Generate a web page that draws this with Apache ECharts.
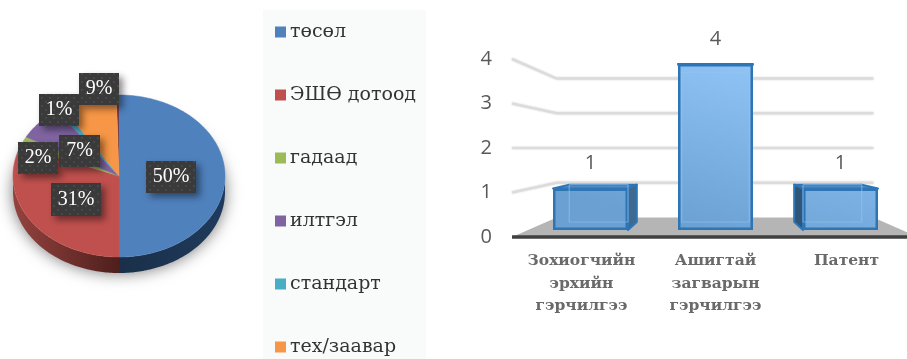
<!DOCTYPE html>
<html><head><meta charset="utf-8">
<style>html,body{margin:0;padding:0;background:#fff}#c{width:907px;height:359px}</style>
<script src="https://cdn.jsdelivr.net/npm/echarts@6/dist/echarts.min.js"></script>
</head><body><div id="c"></div>
<script>
// ---- data ----
const pieCategories = ['төсөл', 'ЭШӨ дотоод', 'гадаад', 'илтгэл', 'стандарт', 'тех/заавар'];
const pieValues = [50, 31, 2, 7, 1, 8.6];
const pieTotal = 100;
const barCategories = ['Зохиогчийн\nэрхийн\nгэрчилгээ', 'Ашигтай\nзагварын\nгэрчилгээ', 'Патент'];
const barValues = [1, 4, 1];
const axisTicks = [0, 1, 2, 3, 4];

// ---- style / layout ----
const pieColors = ['#4f81bd', '#c0504d', '#9bbb59', '#8064a2', '#4bacc6', '#f79646'];
const labelBoxes = [[146,161,50,32],[51,183,50,33],[18,142,40,32],[59,135,41,32],[39,94,40,32],[79,73,40,32]];
const categoryShift = [[0,18,0,0],[0,0,0,0],[0,0,0,12]];
const PIE = {cx:119, cy:176, rx:106, ry:81, depth:16};
const BAR_V = {scale:0.9};
const WALL = {scale:0.78, vx:715};

const ell = (deg, dy) => {
  const a = deg * Math.PI / 180;
  return [PIE.cx + PIE.rx * Math.sin(a), PIE.cy + (dy||0) - PIE.ry * Math.cos(a)];
};
const arcPts = (a0, a1, dy) => {
  const pts = [], n = Math.max(2, Math.ceil(Math.abs(a1 - a0)));
  for (let i = 0; i <= n; i++) pts.push(ell(a0 + (a1 - a0) * i / n, dy));
  return pts;
};
const startAngle = i => pieValues.slice(0, i).reduce((s, v) => s + v, 0) / pieTotal * 360;

const dotCanvas = document.createElement('canvas');
dotCanvas.width = dotCanvas.height = 8;
(() => { const g = dotCanvas.getContext('2d');
  g.fillStyle = '#3a3a3a'; g.fillRect(0,0,8,8);
  g.fillStyle = '#484848'; g.fillRect(1,1,2,2); g.fillRect(5,5,2,2); })();

function renderSlice(params, api) {
  const i = api.value(1);
  const a0 = startAngle(i), a1 = startAngle(i + 1);
  const children = [];
  const s0 = Math.max(a0, 90), s1 = Math.min(a1, 270);
  if (s1 > s0) {
    const top = arcPts(s0, s1, 0), bot = arcPts(s1, s0, PIE.depth);
    const isRed = i === 1;
    children.push({type:'polygon', z2:1, shape:{points: top.concat(bot)},
      style:{fill:{type:'linear',x:0,y:0,x2:1,y2:0,colorStops: isRed
        ? [{offset:0,color:'#94433f'},{offset:1,color:'#4e1f1c'}]
        : [{offset:0,color:'#1a3049'},{offset:1,color:'#1f3a5c'}]}}});
  }
  children.push({type:'polygon', z2:3, shape:{points:[[PIE.cx,PIE.cy]].concat(arcPts(a0,a1,0))},
    style:{fill:pieColors[i], stroke:pieColors[i], lineWidth:0.5}});
  return {type:'group', children};
}

const sliceSeries = pieCategories.map((name, i) => ({
  type:'custom', name, coordinateSystem:'none', silent:true, z:2,
  itemStyle:{color:pieColors[i]}, data:[[pieValues[i], i]], renderItem:renderSlice
}));

const pieBase = {
  type:'custom', name:'pieBase', coordinateSystem:'none', silent:true, z:1, data:[pieTotal],
  renderItem(){
    const rest = startAngle(pieValues.length);
    return {type:'group', children:[
      {type:'polygon', shape:{points:arcPts(0,360,PIE.depth-3)},
       style:{fill:'#ffffff',shadowBlur:16,shadowColor:'rgba(0,0,0,0.55)',shadowOffsetY:3}},
      {type:'polygon', z2:2, shape:{points:[[PIE.cx,PIE.cy]].concat(arcPts(rest,360,0))},
       style:{fill:'#7a2b33'}}
    ]};
  }
};

const pieLabels = {
  type:'custom', name:'pieLabels', coordinateSystem:'none', silent:true, z:5,
  data: pieValues.map((v,i)=>[v,i]),
  renderItem(params, api){
    const i = api.value(1), b = labelBoxes[i];
    return {type:'group', children:[
      {type:'rect', shape:{x:b[0],y:b[1],width:b[2],height:b[3]},
       style:{fill:{image:dotCanvas,repeat:'repeat'},shadowBlur:7,shadowOffsetX:4,shadowOffsetY:4,shadowColor:'rgba(0,0,0,0.45)'}},
      {type:'text', z2:2, style:{x:b[0]+b[2]/2,y:b[1]+b[3]/2,align:'center',verticalAlign:'middle',
        text:Math.round(api.value(0))+'%', fill:'#fff',
        font:'20px "Liberation Serif"'}}
    ]};
  }
};

const wallSeries = {
  type:'custom', name:'wall', xAxisIndex:0, yAxisIndex:0, silent:true, z:1,
  data: axisTicks.map(v=>[0,v]),
  renderItem(params, api){
    const c = params.coordSys, v = api.value(1), fy = api.coord([0,v])[1];
    const vx = WALL.vx, vy = c.y + c.height/2;
    const bx0 = vx + (c.x-vx)*WALL.scale, bx1 = vx + (vx-c.x)*WALL.scale, fx1 = vx + (vx-c.x);
    const by = vy + (fy-vy)*WALL.scale;
    if (v === axisTicks[0]) {
      return {type:'group', children:[
        {type:'polygon', shape:{points:[[c.x,fy],[bx0,by],[bx1,by],[fx1,fy]]}, style:{fill:'#b5b5b5'}},
        {type:'line', z2:2, shape:{x1:c.x,y1:fy,x2:fx1,y2:fy}, style:{stroke:'#404040',lineWidth:3.5}}
      ]};
    }
    return {type:'polyline', shape:{points:[[c.x,fy],[bx0,by],[bx1,by]]},
      style:{fill:null,stroke:'#dcdcdc',lineWidth:2,shadowBlur:2,shadowColor:'rgba(0,0,0,0.25)'}};
  }
};

function barFrame(params, api){
  const c = params.coordSys, i = api.value(0), v = api.value(1);
  const top = api.coord([i,v]), bot = api.coord([i,0]), w = api.size([1,0])[0]*0.6;
  const vx = c.x + c.width/2, vy = bot[1]-80;
  const P = (x,y)=>[vx+(x-vx)*BAR_V.scale, vy+(y-vy)*BAR_V.scale];
  return {top, bot, x0:top[0]-w/2, x1:top[0]+w/2, P};
}

const bar3d = {
  type:'custom', name:'barDepth', xAxisIndex:1, yAxisIndex:1, silent:true, z:2,
  data: barValues.map((v,i)=>[i,v]),
  renderItem(params, api){
    const {top,bot,x0,x1,P} = barFrame(params, api);
    const a=[x0,top[1]], b=[x1,top[1]], d=[x0,bot[1]], e=[x1,bot[1]];
    const A=P(x0,top[1]), B=P(x1,top[1]), D=P(x0,bot[1]), E=P(x1,bot[1]);
    const line = {stroke:'#2e75b6', lineWidth:2, lineJoin:'round'};
    const kids = [
      {type:'polygon', shape:{points:[A,B,E,D]}, style:{fill:'#5f98cf',stroke:'#2e75b6',lineWidth:1}},
      {type:'polygon', z2:1, shape:{points:[a,b,B,A]}, style:Object.assign({fill:'#4f8ac4'},line)}
    ];
    if (B[0] > x1) kids.push({type:'polygon', z2:1, shape:{points:[b,B,E,e]}, style:Object.assign({fill:'#40698f'},line)});
    if (A[0] < x0) kids.push({type:'polygon', z2:1, shape:{points:[a,A,D,d]}, style:Object.assign({fill:'#2f5577'},line)});
    return {type:'group', children:kids};
  }
};

const barInner = {
  type:'custom', name:'barInner', xAxisIndex:1, yAxisIndex:1, silent:true, z:4,
  data: barValues.map((v,i)=>[i,v]),
  renderItem(params, api){
    const {top,bot,x0,x1,P} = barFrame(params, api);
    const l = Math.max(x0, P(x0,0)[0]), r = Math.min(x1, P(x1,0)[0]);
    const yt = P(0,top[1])[1], yb = P(0,bot[1])[1];
    return {type:'polyline', shape:{points:[[l,yt],[r,yt],[r,yb],[l,yb],[l,yt]]},
      style:{fill:null,stroke:'rgba(150,195,235,0.6)',lineWidth:1.2}};
  }
};

const barFront = {
  type:'bar', name:'barFront', xAxisIndex:1, yAxisIndex:1, z:3, barWidth:'60%', silent:true,
  data: barValues,
  itemStyle:{borderColor:'#2e75b6',borderWidth:2.5,
    color:{type:'linear',global:true,x:740,y:64,x2:690,y2:230,colorStops:[{offset:0,color:'#8fc3f5'},{offset:1,color:'#6ba0d3'}]}},
  label:{show:true,position:'top',distance:15,color:'#595959',fontFamily:'Open Sans',fontSize:20}
};

const catLabel = {fontFamily:'DejaVu Serif',fontWeight:'bold',fontSize:15.5,color:'#6a6a6a',lineHeight:22.5};

const option = {
  animation:false,
  backgroundColor:'#ffffff',
  legend:{
    data:pieCategories, orient:'vertical', left:263, top:10, icon:'rect',
    itemWidth:11, itemHeight:11, itemGap:43, align:'left', selectedMode:false,
    backgroundColor:'#f9fafa',
    padding:[12,10,2,12],
    textStyle:{fontFamily:'DejaVu Serif',fontSize:19,lineHeight:20,color:'#333',padding:[0,0,0,-1]}
  },
  grid:[
    {left:512, top:59, right:0, height:178},
    {left:528, top:64, width:375, height:166}
  ],
  xAxis:[
    {type:'category',gridIndex:0,data:barCategories,show:false},
    {type:'category',gridIndex:1,
     data:barCategories.map((n,i)=>({value:n,textStyle:{padding:categoryShift[i]}})),
     axisLine:{show:false},axisTick:{show:false},
     axisLabel:Object.assign({margin:20,interval:0},catLabel)}
  ],
  yAxis:[
    {type:'value',gridIndex:0,min:0,max:4,interval:1,
     axisLine:{show:false},axisTick:{show:false},splitLine:{show:false},
     axisLabel:{margin:20,fontFamily:'Open Sans',fontSize:20,color:'#595959'}},
    {type:'value',gridIndex:1,min:0,max:4,interval:1,show:false,splitLine:{show:false}}
  ],
  series:[pieBase].concat(sliceSeries,[pieLabels,wallSeries,bar3d,barFront,barInner])
};
echarts.init(document.getElementById('c')).setOption(option);
</script></body></html>
